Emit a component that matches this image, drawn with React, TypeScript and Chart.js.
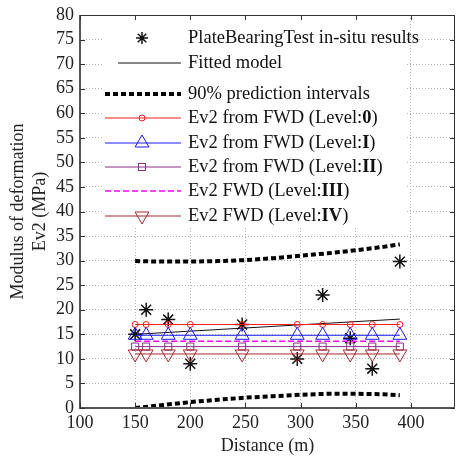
import React, { useEffect, useRef } from 'react';
import { Chart, registerables } from 'chart.js';

Chart.register(...registerables);

// ---------- data ----------
const testDistances = [150, 160, 180, 200, 247, 297, 320, 345, 365, 390];
const plateBearingEv2 = [15, 20, 18, 9, 17, 10, 23, 14.2, 8, 29.8];

const fittedDistances = [150, 390];
const fittedEv2 = [15.0, 18.1];

const intervalDistances = [150, 175, 200, 225, 250, 275, 300, 325, 350, 375, 390];
const upperInterval = [29.9, 29.8, 29.8, 29.9, 30.1, 30.5, 31.0, 31.5, 32.1, 32.8, 33.3];
const lowerInterval = [0.0, 0.6, 1.2, 1.7, 2.1, 2.4, 2.7, 2.9, 2.9, 2.8, 2.6];

const ev2Level0 = [17, 17, 17, 17, 17, 17, 17, 17, 17, 17];
const ev2Level1 = [14.8, 14.8, 14.8, 14.8, 14.8, 14.8, 14.8, 14.8, 14.8, 14.8];
const ev2Level2 = [12.5, 12.5, 12.5, 12.5, 12.5, 12.5, 12.5, 12.5, 12.5, 12.5];
const ev2Level3 = [13.6, 13.6, 13.6, 13.6, 13.6, 13.6, 13.6, 13.6, 13.6, 13.6];
const ev2Level4 = [11, 11, 11, 11, 11, 11, 11, 11, 11, 11];

const xTickValues = [100, 150, 200, 250, 300, 350, 400];
const yTickValues = [0, 5, 10, 15, 20, 25, 30, 35, 40, 45, 50, 55, 60, 65, 70, 75, 80];

const legendTexts = [
  ['PlateBearingTest in-situ results', '', ''],
  ['Fitted model', '', ''],
  ['90% prediction intervals', '', ''],
  ['Ev2 from FWD (Level:', '0', ')'],
  ['Ev2 from FWD (Level:', 'I', ')'],
  ['Ev2 from FWD (Level:', 'II', ')'],
  ['Ev2 FWD (Level:', 'III', ')'],
  ['Ev2 FWD (Level:', 'IV', ')'],
];

const FONT = '"Liberation Serif", "Times New Roman", serif';
const RED = '#ff1a1a';
const BLUE = '#1a1aff';
const PURPLE = '#8a2f8a';
const MAGENTA = '#ff00ff';
const BROWN = '#a52a2a';

const pts = (xs: number[], ys: number[]) => xs.map((x, i) => ({ x, y: ys[i] }));

function drawStar(ctx: CanvasRenderingContext2D, x: number, y: number, r: number) {
  ctx.beginPath();
  ctx.moveTo(x - r, y); ctx.lineTo(x + r, y);
  ctx.moveTo(x, y - r); ctx.lineTo(x, y + r);
  const d = r * Math.SQRT1_2;
  ctx.moveTo(x - d, y - d); ctx.lineTo(x + d, y + d);
  ctx.moveTo(x - d, y + d); ctx.lineTo(x + d, y - d);
  ctx.stroke();
}

function drawTri(ctx: CanvasRenderingContext2D, x: number, y: number, r: number, inv: boolean) {
  const s = inv ? -1 : 1;
  ctx.beginPath();
  ctx.moveTo(x, y - s * r);
  ctx.lineTo(x + r * Math.sin((2 * Math.PI) / 3), y + s * r * 0.5);
  ctx.lineTo(x - r * Math.sin((2 * Math.PI) / 3), y + s * r * 0.5);
  ctx.closePath();
  ctx.stroke();
}

const decorPlugin = {
  id: 'decor',
  afterDraw(chart: any) {
    const ctx: CanvasRenderingContext2D = chart.ctx;
    const { left, right, top, bottom } = chart.chartArea;
    const xs = chart.scales.x;
    const ys = chart.scales.y;
    ctx.save();
    // legend box
    ctx.fillStyle = '#ffffff';
    ctx.fillRect(104, top + 1, 302, 212);
    const rows = [38, 63, 94, 118, 143, 167, 191, 216];
    const lx0 = 105, lx1 = 181, mx = 142, tx = 188;
    const fs = 18.5;
    rows.forEach((ry, i) => {
      ctx.setLineDash([]);
      ctx.lineWidth = 1;
      if (i === 0) {
        ctx.strokeStyle = '#111';
        ctx.lineWidth = 1.5;
        drawStar(ctx, mx, ry, 6);
      } else if (i === 1) {
        ctx.strokeStyle = '#111';
        ctx.beginPath(); ctx.moveTo(118, ry); ctx.lineTo(lx1, ry); ctx.stroke();
      } else if (i === 2) {
        ctx.strokeStyle = '#000';
        ctx.lineWidth = 4;
        ctx.setLineDash([5, 3]);
        ctx.beginPath(); ctx.moveTo(lx0, ry); ctx.lineTo(lx1, ry); ctx.stroke();
      } else {
        const col = [RED, BLUE, PURPLE, MAGENTA, BROWN][i - 3];
        ctx.strokeStyle = col;
        ctx.lineWidth = i === 6 ? 1.5 : 1;
        if (i === 6) ctx.setLineDash([6, 3]);
        ctx.beginPath(); ctx.moveTo(lx0, ry); ctx.lineTo(lx1, ry); ctx.stroke();
        ctx.setLineDash([]);
        ctx.lineWidth = 1;
        if (i === 3) { ctx.beginPath(); ctx.arc(mx, ry, 3, 0, Math.PI * 2); ctx.stroke(); }
        if (i === 4) drawTri(ctx, mx, ry, 8, false);
        if (i === 5) ctx.strokeRect(mx - 3.5, ry - 3.5, 7, 7);
        if (i === 7) drawTri(ctx, mx, ry, 8, true);
      }
      const [a, b, c] = legendTexts[i];
      ctx.fillStyle = '#111';
      ctx.textBaseline = 'middle';
      ctx.textAlign = 'left';
      ctx.font = `${fs}px ${FONT}`;
      let x = tx;
      ctx.fillText(a, x, ry);
      x += ctx.measureText(a).width;
      if (b) {
        ctx.font = `bold ${fs}px ${FONT}`;
        ctx.fillText(b, x, ry);
        x += ctx.measureText(b).width;
        ctx.font = `${fs}px ${FONT}`;
        ctx.fillText(c, x, ry);
      }
    });
    // frame
    ctx.setLineDash([]);
    ctx.strokeStyle = '#333';
    ctx.lineWidth = 1;
    ctx.beginPath();
    ctx.moveTo(left, top + 0.5); ctx.lineTo(right - 0.5, top + 0.5); ctx.lineTo(right - 0.5, bottom);
    ctx.stroke();
    ctx.strokeStyle = '#555';
    ctx.lineWidth = 2;
    ctx.beginPath();
    ctx.moveTo(left, top); ctx.lineTo(left, bottom); ctx.lineTo(right, bottom);
    ctx.stroke();
    // inward ticks
    ctx.strokeStyle = '#333';
    ctx.lineWidth = 1;
    ctx.beginPath();
    xTickValues.forEach((v) => {
      const px = Math.round(xs.getPixelForValue(v)) + 0.5;
      ctx.moveTo(px, bottom); ctx.lineTo(px, bottom - 5);
      ctx.moveTo(px, top); ctx.lineTo(px, top + 5);
    });
    yTickValues.forEach((v) => {
      const py = Math.round(ys.getPixelForValue(v)) + 0.5;
      ctx.moveTo(left, py); ctx.lineTo(left + 5, py);
      ctx.moveTo(right, py); ctx.lineTo(right - 5, py);
    });
    ctx.stroke();
    ctx.restore();
  },
};

export default function App() {
  const ref = useRef<HTMLCanvasElement | null>(null);
  useEffect(() => {
    if (!ref.current) return;
    const tickFont = { family: FONT, size: 18 };
    const chart = new Chart(ref.current, {
      type: 'line',
      data: {
        datasets: [
          {
            label: 'upper',
            data: pts(intervalDistances, upperInterval),
            borderColor: '#000', borderWidth: 4, borderDash: [5, 3], pointRadius: 0, fill: false,
          },
          {
            label: 'lower',
            data: pts(intervalDistances, lowerInterval),
            borderColor: '#000', borderWidth: 4, borderDash: [5, 3], pointRadius: 0, fill: false,
          },
          {
            label: 'Level IV',
            data: pts(testDistances, ev2Level4),
            borderColor: BROWN, borderWidth: 1, pointStyle: 'triangle', pointRotation: 180,
            pointRadius: 8, pointBorderColor: BROWN, pointBackgroundColor: 'rgba(0,0,0,0)', pointBorderWidth: 1,
          },
          {
            label: 'Level II',
            data: pts(testDistances, ev2Level2),
            borderColor: PURPLE, borderWidth: 1, pointStyle: 'rect',
            pointRadius: 5, pointBorderColor: PURPLE, pointBackgroundColor: 'rgba(0,0,0,0)', pointBorderWidth: 1,
          },
          {
            label: 'Level III',
            data: pts(testDistances, ev2Level3),
            borderColor: MAGENTA, borderWidth: 1.5, borderDash: [6, 3], pointRadius: 0,
          },
          {
            label: 'Level I',
            data: pts(testDistances, ev2Level1),
            borderColor: BLUE, borderWidth: 1, pointStyle: 'triangle',
            pointRadius: 8, pointBorderColor: BLUE, pointBackgroundColor: 'rgba(0,0,0,0)', pointBorderWidth: 1,
          },
          {
            label: 'Level 0',
            data: pts(testDistances, ev2Level0),
            borderColor: RED, borderWidth: 1, pointStyle: 'circle',
            pointRadius: 3, pointBorderColor: RED, pointBackgroundColor: 'rgba(0,0,0,0)', pointBorderWidth: 1,
          },
          {
            label: 'Fitted',
            data: pts(fittedDistances, fittedEv2),
            borderColor: '#111', borderWidth: 1, pointRadius: 0,
          },
          {
            label: 'PlateBearing',
            data: pts(testDistances, plateBearingEv2),
            showLine: false, pointStyle: 'star', pointRadius: 7,
            pointBorderColor: '#111', pointBackgroundColor: '#111', pointBorderWidth: 1.5,
          },
        ],
      },
      options: {
        animation: false,
        responsive: false,
        parsing: true,
        layout: { padding: { top: 15, right: 0, left: 0, bottom: 0 } },
        plugins: { legend: { display: false }, tooltip: { enabled: false }, title: { display: false } },
        elements: { line: { tension: 0 } },
        scales: {
          x: {
            type: 'linear', min: 100, max: 440,
            ticks: { stepSize: 50, includeBounds: false, autoSkip: false, font: tickFont, color: '#222', padding: 4, maxRotation: 0 },
            grid: { drawTicks: false, color: '#b5b5b5', lineWidth: 1 },
            border: { display: false, dash: [1, 2] },
            title: { display: true, text: 'Distance (m)', font: { family: FONT, size: 18 }, color: '#222', padding: { top: 0, bottom: 1 } },
            afterFit: (s: any) => { s.height = 50; s.paddingLeft = 0; s.paddingRight = 0; },
          },
          y: {
            type: 'linear', min: 0, max: 80,
            ticks: { stepSize: 5, autoSkip: false, font: tickFont, color: '#222', padding: 6 },
            grid: { drawTicks: false, color: '#b5b5b5', lineWidth: 1 },
            border: { display: false, dash: [1, 2] },
            title: {
              display: true, text: ['Modulus of deformation', 'Ev2 (MPa)'],
              font: { family: FONT, size: 18, lineHeight: 1.25 }, color: '#222', padding: { top: 7, bottom: 0 },
            },
            afterFit: (s: any) => { s.width = 80; s.paddingTop = 0; s.paddingBottom = 0; },
          },
        },
      } as any,
      plugins: [decorPlugin],
    });
    return () => chart.destroy();
  }, []);
  return (
    <div style={{ position: 'absolute', left: 0, top: 0, width: 456, height: 458, background: '#fff', overflow: 'hidden' }}>
      <canvas ref={ref} width={464} height={458} style={{ width: 464, height: 458, display: 'block' }} />
    </div>
  );
}
